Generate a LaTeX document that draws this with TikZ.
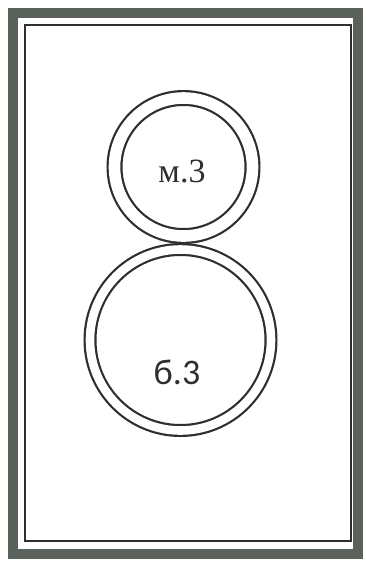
\documentclass[tikz,border=0pt]{standalone}
\usepackage{fontspec}
\setmainfont{Liberation Serif}
\newfontfamily\labelsans{Carlito}
\definecolor{framegray}{HTML}{5B625B}
\definecolor{inkgray}{HTML}{2E2E2E}
\tikzset{
  ring/.style={circle, draw=inkgray, line width=2.2pt, double=white, inner sep=0pt},
  ringlabel/.style={text=inkgray, inner sep=0pt}
}
\begin{document}
\begin{tikzpicture}[x=1pt,y=-1pt]
    \useasboundingbox (0,0) rectangle (365,566);

    % double frame
    \draw[framegray, line width=10pt] (13,13) rectangle (358,554);
    \draw[inkgray, line width=2.4pt] (25,25) rectangle (351,541);

    % small ring
    \node[ring, double distance=11.6pt, minimum size=138pt] (small) at (183.5,167) {};
    \node[ringlabel, font=\fontsize{34}{34}\selectfont] (smalltext) at (182,171) {м.3};

    % big ring
    \node[ring, double distance=8.6pt, minimum size=181pt] (big) at (180.5,340) {};
    \node[ringlabel, font=\labelsans\fontsize{36}{36}\selectfont] (bigtext) at (177,372) {б.3};

\end{tikzpicture}
\end{document}
